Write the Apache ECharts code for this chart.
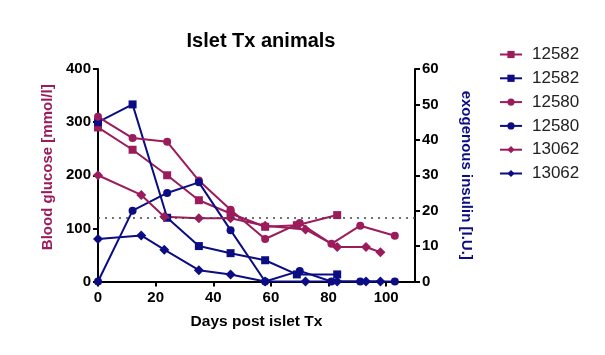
<!DOCTYPE html>
<html><head><meta charset="utf-8">
<script src="https://cdn.jsdelivr.net/npm/echarts@6/dist/echarts.min.js"></script>
<style>html,body{margin:0;padding:0;background:#fff}#c{width:605px;height:355px}</style>
</head><body><div id="c"></div>
<script>
// Blood glucose (left axis) and exogenous insulin (right axis)
const days12582 = [0, 12, 24, 35, 46, 58, 69, 83];
const glucose12582 = [290, 248, 200, 153, 128, 103, 106, 125];
const insulin12582 = [45, 50, 18, 10, 8, 6, 2, 2];

const days12580 = [0, 12, 24, 35, 46, 58, 70, 81, 91, 103];
const glucose12580 = [310, 270, 263, 190, 135, 80, 110, 71, 105, 86];
const insulin12580 = [0, 20, 25, 28, 14.5, 0, 3, 0, 0, 0];

const days13062 = [0, 15, 23, 35, 46, 58, 72, 83, 93, 98];
const glucose13062 = [200, 163, 122, 119, 119, 105, 98, 65, 65, 55];
const insulin13062 = [12, 13, 9, 3.2, 2, 0, 0, 0, 0, 0];

const refGlucose = 120;
const legendNames = ['12582', '12582 ', '12580', '12580 ', '13062', '13062 '];

const MAG = '#9b1b5b', NAVY = '#0c0c84';
const FONT = 'Liberation Sans, Arial';
const pairs = (d, v) => d.map((x, i) => [x, v[i]]);

function ser(name, days, vals, color, symbol, yIdx, size) {
  return {
    name, type: 'line', yAxisIndex: yIdx, data: pairs(days, vals),
    symbol, symbolSize: size, color,
    lineStyle: { width: 2, color }, itemStyle: { color },
    emphasis: { disabled: true }, animation: false
  };
}

const series = [
  ser(legendNames[0], days12582, glucose12582, MAG, 'rect', 0, 8),
  ser(legendNames[1], days12582, insulin12582, NAVY, 'rect', 1, 8),
  ser(legendNames[2], days12580, glucose12580, MAG, 'circle', 0, 8),
  ser(legendNames[3], days12580, insulin12580, NAVY, 'circle', 1, 8),
  ser(legendNames[4], days13062, glucose13062, MAG, 'diamond', 0, 10),
  ser(legendNames[5], days13062, insulin13062, NAVY, 'diamond', 1, 10)
];
series[0].markLine = {
  silent: true, symbol: 'none', label: { show: false },
  lineStyle: { type: [2, 5], color: '#444', width: 1.5 },
  data: [{ yAxis: refGlucose }]
};

const axisCommon = {
  axisLine: { show: true, lineStyle: { color: '#000', width: 2 } },
  axisTick: { show: true, length: 5, lineStyle: { color: '#000', width: 2 } },
  axisLabel: { color: '#000', fontWeight: 'bold', fontSize: 15, fontFamily: FONT, margin: 7 },
  splitLine: { show: false }
};

const chart = echarts.init(document.getElementById('c'));
chart.setOption({
  backgroundColor: '#fff',
  animation: false,
  title: {
    text: 'Islet Tx animals', left: 256, top: 26, textAlign: 'center',
    textStyle: { fontSize: 20, fontWeight: 'bold', color: '#000', fontFamily: FONT }
  },
  legend: {
    orient: 'vertical', left: 494, top: 41, itemGap: 6.8, itemWidth: 22, itemHeight: 9,
    data: legendNames,
    textStyle: { fontSize: 17, color: '#222', fontFamily: FONT, padding: [0, 0, 0, 5] },
    selectedMode: false
  },
  grid: { left: 98, right: 190, top: 69, bottom: 73.5 },
  xAxis: Object.assign({}, axisCommon, {
    type: 'value', min: 0, max: 110, interval: 20,
    name: 'Days post islet Tx', nameLocation: 'middle', nameGap: 32,
    nameTextStyle: { fontWeight: 'bold', fontSize: 15.5, color: '#000', fontFamily: FONT },
    axisLabel: Object.assign({}, axisCommon.axisLabel, { showMaxLabel: false, margin: 9 })
  }),
  yAxis: [
    Object.assign({}, axisCommon, {
      type: 'value', min: 0, max: 400, interval: 100, position: 'left',
      name: 'Blood glucose [mmol/l]', nameLocation: 'middle', nameGap: 41,
      nameTextStyle: { fontWeight: 'bold', fontSize: 15, color: MAG, fontFamily: FONT, padding: [0, 0, 0, 16] }
    }),
    Object.assign({}, axisCommon, {
      type: 'value', min: 0, max: 60, interval: 10, position: 'right',
      name: 'exogenous insulin [I.U.]', nameLocation: 'middle', nameGap: 44, nameRotate: -90,
      nameTextStyle: { fontWeight: 'bold', fontSize: 15, color: NAVY, fontFamily: FONT }
    })
  ],
  series
});
</script></body></html>
